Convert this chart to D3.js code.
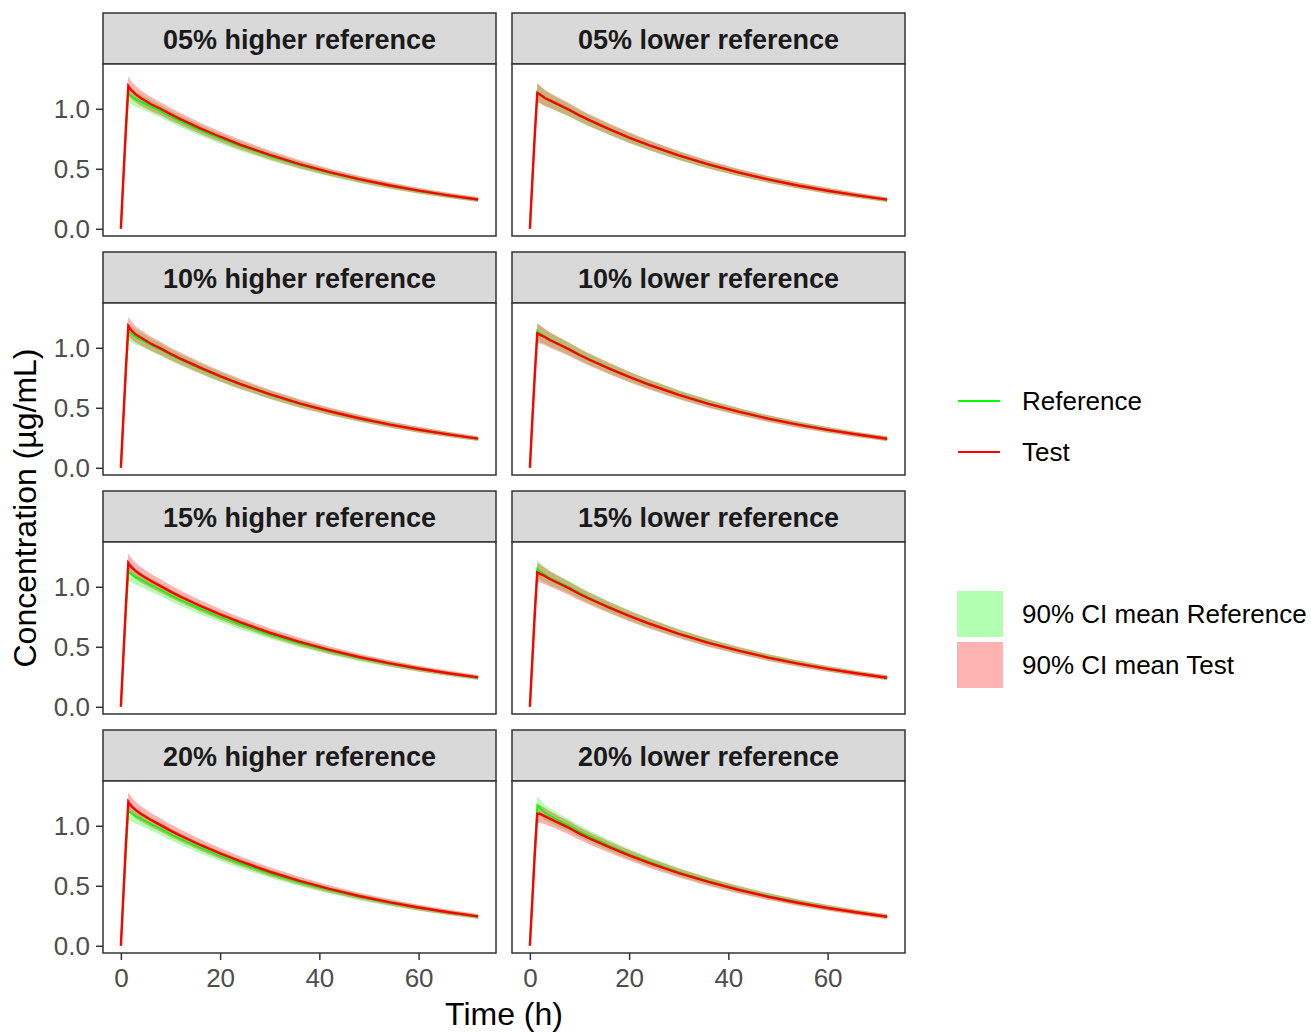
<!DOCTYPE html>
<html>
<head>
<meta charset="utf-8">
<script src="https://cdn.jsdelivr.net/npm/d3@7"></script>
<style>
  body { margin: 0; background: #fff; }
  svg { font-family: "Liberation Sans", Arial, sans-serif; }
</style>
</head>
<body>
<svg width="1311" height="1032"></svg>
<script>
// data
const times = [0, 0.5, 1, 1.5, 2, 3, 4, 6, 8, 10, 12, 16, 20, 24, 30, 36, 42, 48, 54, 60, 66, 72];

const panelLabels = ['05% higher reference', '05% lower reference',
                     '10% higher reference', '10% lower reference',
                     '15% higher reference', '15% lower reference',
                     '20% higher reference', '20% lower reference'];

const test05h = [0, 0.42, 0.83, 1.19, 1.16, 1.12, 1.09, 1.04, 1.00, 0.955, 0.914, 0.837, 0.767, 0.702, 0.615, 0.539, 0.472, 0.414, 0.363, 0.318, 0.279, 0.244];
const ref05h  = [0, 0.40, 0.79, 1.13, 1.11, 1.08, 1.06, 1.02, 0.98, 0.935, 0.895, 0.820, 0.752, 0.690, 0.605, 0.531, 0.466, 0.409, 0.359, 0.315, 0.277, 0.242];
const test05l = [0, 0.40, 0.79, 1.13, 1.12, 1.09, 1.07, 1.03, 0.99, 0.945, 0.905, 0.830, 0.760, 0.697, 0.611, 0.536, 0.470, 0.412, 0.361, 0.317, 0.278, 0.243];
const ref05l  = [0, 0.41, 0.80, 1.14, 1.12, 1.09, 1.07, 1.025, 0.985, 0.940, 0.900, 0.826, 0.757, 0.694, 0.608, 0.533, 0.468, 0.410, 0.360, 0.316, 0.277, 0.242];
const test10h = [0, 0.41, 0.82, 1.18, 1.15, 1.11, 1.085, 1.035, 0.995, 0.950, 0.910, 0.834, 0.764, 0.700, 0.613, 0.537, 0.471, 0.413, 0.362, 0.317, 0.278, 0.243];
const ref10h  = [0, 0.40, 0.79, 1.13, 1.12, 1.09, 1.07, 1.025, 0.985, 0.940, 0.900, 0.826, 0.757, 0.694, 0.608, 0.533, 0.468, 0.410, 0.360, 0.316, 0.277, 0.242];
const test10l = [0, 0.40, 0.78, 1.12, 1.11, 1.09, 1.065, 1.025, 0.985, 0.940, 0.900, 0.826, 0.757, 0.694, 0.608, 0.533, 0.468, 0.410, 0.360, 0.316, 0.277, 0.242];
const ref10l  = [0, 0.41, 0.80, 1.14, 1.12, 1.095, 1.07, 1.03, 0.99, 0.945, 0.905, 0.830, 0.760, 0.697, 0.611, 0.536, 0.470, 0.412, 0.361, 0.317, 0.278, 0.243];
const test15h = [0, 0.42, 0.84, 1.20, 1.17, 1.13, 1.10, 1.05, 1.005, 0.960, 0.918, 0.840, 0.770, 0.705, 0.617, 0.541, 0.474, 0.415, 0.364, 0.319, 0.280, 0.245];
const ref15h  = [0, 0.39, 0.78, 1.12, 1.11, 1.08, 1.06, 1.015, 0.975, 0.930, 0.890, 0.816, 0.748, 0.686, 0.602, 0.528, 0.464, 0.407, 0.358, 0.314, 0.276, 0.242];
const test15l = [0, 0.39, 0.78, 1.12, 1.11, 1.09, 1.065, 1.025, 0.985, 0.940, 0.900, 0.826, 0.757, 0.694, 0.608, 0.533, 0.468, 0.410, 0.360, 0.316, 0.277, 0.242];
const ref15l  = [0, 0.41, 0.81, 1.15, 1.13, 1.10, 1.075, 1.035, 0.995, 0.950, 0.908, 0.832, 0.762, 0.698, 0.612, 0.537, 0.471, 0.413, 0.362, 0.317, 0.278, 0.243];
const test20h = [0, 0.42, 0.84, 1.20, 1.17, 1.13, 1.10, 1.05, 1.005, 0.960, 0.918, 0.840, 0.770, 0.705, 0.617, 0.541, 0.474, 0.415, 0.364, 0.319, 0.280, 0.245];
const ref20h  = [0, 0.39, 0.78, 1.12, 1.11, 1.08, 1.06, 1.015, 0.975, 0.930, 0.890, 0.816, 0.748, 0.686, 0.602, 0.528, 0.464, 0.407, 0.358, 0.314, 0.276, 0.242];
const test20l = [0, 0.38, 0.77, 1.10, 1.10, 1.08, 1.06, 1.02, 0.980, 0.935, 0.895, 0.822, 0.754, 0.691, 0.606, 0.532, 0.467, 0.409, 0.359, 0.315, 0.277, 0.242];
const ref20l  = [0, 0.41, 0.82, 1.17, 1.15, 1.11, 1.085, 1.04, 1.00, 0.955, 0.912, 0.836, 0.765, 0.701, 0.614, 0.538, 0.472, 0.414, 0.363, 0.318, 0.279, 0.244];

// half width of the 90% CI ribbons
const ciTest = [0, 0.04, 0.06, 0.08, 0.075, 0.068, 0.064, 0.058, 0.055, 0.052, 0.05, 0.047, 0.044, 0.041, 0.037, 0.034, 0.031, 0.028, 0.026, 0.024, 0.022, 0.02];
const ciRef  = [0, 0.04, 0.06, 0.075, 0.07, 0.064, 0.06, 0.055, 0.052, 0.05, 0.048, 0.045, 0.042, 0.039, 0.035, 0.032, 0.029, 0.027, 0.025, 0.023, 0.021, 0.019];

const xTicks = [0, 20, 40, 60];
const yTicks = [0.0, 0.5, 1.0];

const refSeries = [ref05h, ref05l, ref10h, ref10l, ref15h, ref15l, ref20h, ref20l];
const testSeries = [test05h, test05l, test10h, test10l, test15h, test15l, test20h, test20l];

// layout
const colX = [103, 512];
const panelW = 393;
const rowTop = 13;
const rowStep = 239;
const stripH = 51;
const plotH = 172;

const greenLine = '#00FF00';
const redLine = '#FF0000';

let svg = d3.select('svg');

let xScale = d3.scaleLinear().domain([-3.6, 75.6]).range([0, panelW]);
let yScale = d3.scaleLinear().domain([-0.06, 1.373]).range([plotH, 0]);

let area = d3.area()
    .x(d => xScale(d.t))
    .y0(d => yScale(d.lo))
    .y1(d => yScale(d.hi));

let line = d3.line()
    .x(d => xScale(d.t))
    .y(d => yScale(d.v));

svg.append('defs').append('clipPath')
    .attr('id', 'clip')
    .append('rect')
    .attr('width', panelW)
    .attr('height', plotH);

function ribbonData(mean, ci) {
    return times.map((t, i) => ({ t: t, lo: mean[i] - ci[i], hi: mean[i] + ci[i] }));
}

function lineData(mean) {
    return times.map((t, i) => ({ t: t, v: mean[i] }));
}

function drawPanel(i) {
    let col = i % 2;
    let row = Math.floor(i / 2);
    let x0 = colX[col];
    let y0 = rowTop + row * rowStep;

    // strip
    let strip = svg.append('g').attr('transform', `translate(${x0},${y0})`);
    strip.append('rect')
        .attr('width', panelW)
        .attr('height', stripH)
        .attr('fill', '#D9D9D9')
        .attr('stroke', '#333333')
        .attr('stroke-width', 1.5);
    strip.append('text')
        .attr('x', panelW / 2)
        .attr('y', stripH / 2)
        .attr('dy', '0.38em')
        .attr('text-anchor', 'middle')
        .attr('font-size', 27)
        .attr('font-weight', 'bold')
        .attr('fill', '#1A1A1A')
        .text(panelLabels[i]);

    // plot area
    let g = svg.append('g').attr('transform', `translate(${x0},${y0 + stripH})`);
    g.append('rect')
        .attr('width', panelW)
        .attr('height', plotH)
        .attr('fill', '#fff');

    let inner = g.append('g').attr('clip-path', 'url(#clip)');
    inner.append('path')
        .attr('d', area(ribbonData(refSeries[i], ciRef)))
        .attr('fill', greenLine)
        .attr('fill-opacity', 0.3);
    inner.append('path')
        .attr('d', area(ribbonData(testSeries[i], ciTest)))
        .attr('fill', redLine)
        .attr('fill-opacity', 0.3);
    inner.append('path')
        .attr('d', line(lineData(refSeries[i])))
        .attr('fill', 'none')
        .attr('stroke', greenLine)
        .attr('stroke-width', 1.8);
    inner.append('path')
        .attr('d', line(lineData(testSeries[i])))
        .attr('fill', 'none')
        .attr('stroke', redLine)
        .attr('stroke-width', 2.4);

    g.append('rect')
        .attr('width', panelW)
        .attr('height', plotH)
        .attr('fill', 'none')
        .attr('stroke', '#333333')
        .attr('stroke-width', 1.5);

    // y axis on every panel of the left column
    if (col === 0) {
        let yAxis = d3.axisLeft(yScale)
            .tickValues(yTicks)
            .tickFormat(d3.format('.1f'))
            .tickSize(7)
            .tickPadding(6);
        let ya = g.append('g').call(yAxis);
        styleAxis(ya);
    }

    // x axis on the bottom row only
    if (row === 3) {
        let xAxis = d3.axisBottom(xScale)
            .tickValues(xTicks)
            .tickSize(7)
            .tickPadding(9);
        let xa = g.append('g')
            .attr('transform', `translate(0,${plotH})`)
            .call(xAxis);
        styleAxis(xa);
    }
}

function styleAxis(sel) {
    sel.select('.domain').remove();
    sel.selectAll('.tick line')
        .attr('stroke', '#333333')
        .attr('stroke-width', 1.5);
    sel.selectAll('.tick text')
        .attr('fill', '#4D4D4D')
        .attr('font-size', 26)
        .attr('font-family', '"Liberation Sans", Arial, sans-serif');
}

for (let i = 0; i < panelLabels.length; i++) {
    drawPanel(i);
}

// axis titles
svg.append('text')
    .attr('x', 504)
    .attr('y', 1025)
    .attr('text-anchor', 'middle')
    .attr('font-size', 32)
    .attr('fill', '#000')
    .text('Time (h)');

svg.append('text')
    .attr('transform', 'translate(36,508) rotate(-90)')
    .attr('text-anchor', 'middle')
    .attr('font-size', 32)
    .attr('fill', '#000')
    .text('Concentration (µg/mL)');

// legends
const lineKeys = [
    { label: 'Reference', color: greenLine, y: 401 },
    { label: 'Test', color: redLine, y: 452 }
];
const fillKeys = [
    { label: '90% CI mean Reference', color: greenLine, y: 591 },
    { label: '90% CI mean Test', color: redLine, y: 642 }
];

lineKeys.forEach(k => {
    svg.append('line')
        .attr('x1', 958).attr('x2', 1000)
        .attr('y1', k.y).attr('y2', k.y)
        .attr('stroke', k.color)
        .attr('stroke-width', 2);
    svg.append('text')
        .attr('x', 1022)
        .attr('y', k.y)
        .attr('dy', '0.36em')
        .attr('font-size', 26)
        .attr('fill', '#000')
        .text(k.label);
});

fillKeys.forEach(k => {
    svg.append('rect')
        .attr('x', 957).attr('y', k.y)
        .attr('width', 46).attr('height', 46)
        .attr('fill', k.color)
        .attr('fill-opacity', 0.3);
    svg.append('text')
        .attr('x', 1022)
        .attr('y', k.y + 23)
        .attr('dy', '0.36em')
        .attr('font-size', 26)
        .attr('fill', '#000')
        .text(k.label);
});
</script>
</body>
</html>
